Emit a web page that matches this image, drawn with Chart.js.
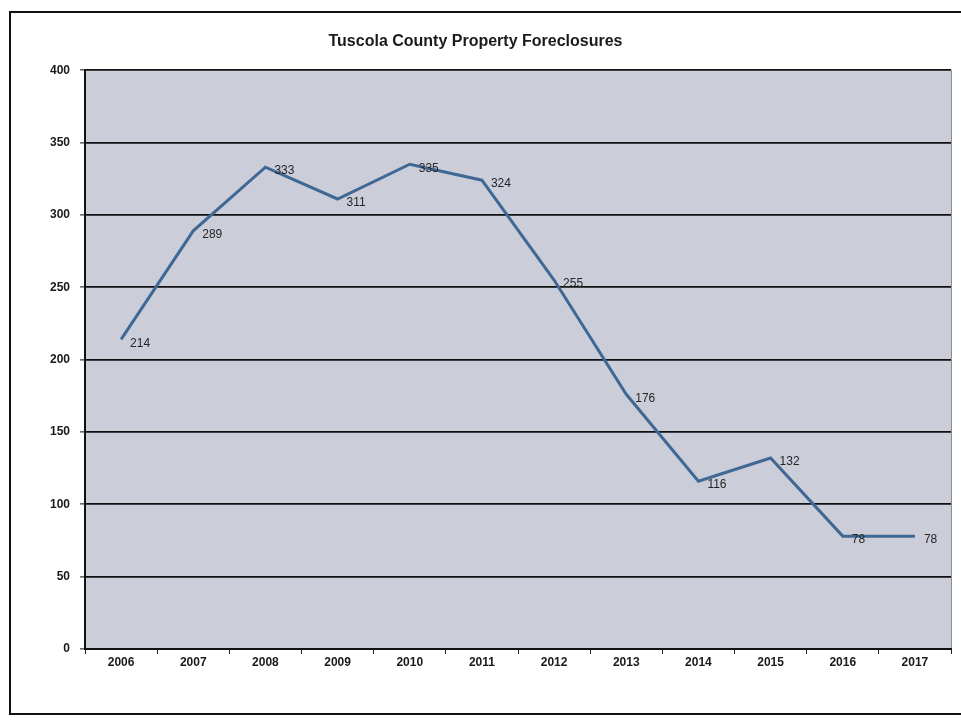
<!DOCTYPE html>
<html>
<head>
<meta charset="utf-8">
<script src="https://cdn.jsdelivr.net/npm/chart.js@4.4.0/dist/chart.umd.min.js"></script>
<style>
  html, body { margin: 0; padding: 0; background: #fff; }
  #wrap { position: relative; width: 961px; height: 721px; }
  #frame {
    position: absolute; left: 9px; top: 11px; width: 960px; height: 700px;
    border-left: 2px solid #111; border-top: 2px solid #111; border-bottom: 2px solid #111;
    pointer-events: none;
  }
</style>
</head>
<body>
<div id="wrap">
  <canvas id="foreclosures" width="961" height="721"></canvas>
  <div id="frame"></div>
</div>
<script>
var years = ['2006', '2007', '2008', '2009', '2010', '2011', '2012', '2013', '2014', '2015', '2016', '2017'];
var foreclosures = [214, 289, 333, 311, 335, 324, 255, 176, 116, 132, 78, 78];
var chartTitle = 'Tuscola County Property Foreclosures';

//fill the plot area grey-blue
var plotBg = {
  id: 'plotBg',
  beforeDraw: function(chart) {
    var a = chart.chartArea;
    var ctx = chart.ctx;
    ctx.save();
    ctx.fillStyle = '#cbcdd9';
    ctx.fillRect(a.left, a.top, a.right - a.left, a.bottom - a.top);
    ctx.strokeStyle = '#8a8c96';
    ctx.lineWidth = 1;
    ctx.beginPath();
    ctx.moveTo(a.right + 0.5, a.top);
    ctx.lineTo(a.right + 0.5, a.bottom);
    ctx.stroke();
    ctx.restore();
  }
};

//value labels to the right of each point
var valueLabels = {
  id: 'valueLabels',
  afterDatasetsDraw: function(chart) {
    var ctx = chart.ctx;
    var meta = chart.getDatasetMeta(0);
    ctx.save();
    ctx.font = '12px "Liberation Sans", Arial, sans-serif';
    ctx.fillStyle = '#262626';
    ctx.textAlign = 'left';
    ctx.textBaseline = 'middle';
    meta.data.forEach(function(pt, i) {
      ctx.fillText(foreclosures[i], pt.x + 9, pt.y + 4);
    });
    ctx.restore();
  }
};

var ctx = document.getElementById('foreclosures').getContext('2d');
var chart = new Chart(ctx, {
  type: 'line',
  data: {
    labels: years,
    datasets: [{
      data: foreclosures,
      borderColor: '#3f6894',
      borderWidth: 3,
      pointRadius: 0,
      tension: 0,
      fill: false
    }]
  },
  options: {
    responsive: false,
    animation: false,
    layout: { padding: { left: 0, right: 10, top: 0, bottom: 0 } },
    plugins: {
      legend: { display: false },
      tooltip: { enabled: false },
      title: {
        display: true,
        text: chartTitle,
        color: '#1a1a1a',
        font: { family: '"Liberation Sans", Arial, sans-serif', size: 16, weight: 'bold' },
        padding: { top: 32, bottom: 19 }
      }
    },
    scales: {
      x: {
        offset: true,
        grid: { offset: true, drawOnChartArea: false, drawTicks: true, tickLength: 5, color: '#222', lineWidth: 1 },
        border: { color: '#111', width: 2 },
        ticks: {
          color: '#1a1a1a',
          padding: 1,
          maxRotation: 0,
          font: { family: '"Liberation Sans", Arial, sans-serif', size: 12, weight: 'bold' }
        },
        afterFit: function(scale) { scale.height = 72; }
      },
      y: {
        min: 0,
        max: 400,
        grid: { color: '#111', lineWidth: 1.8, tickLength: 5, tickColor: '#111', tickWidth: 1 },
        border: { color: '#111', width: 2 },
        ticks: {
          stepSize: 50,
          color: '#1a1a1a',
          padding: 10,
          font: { family: '"Liberation Sans", Arial, sans-serif', size: 12, weight: 'bold' }
        },
        afterFit: function(scale) { scale.width = 85; }
      }
    }
  },
  plugins: [plotBg, valueLabels]
});
</script>
</body>
</html>
